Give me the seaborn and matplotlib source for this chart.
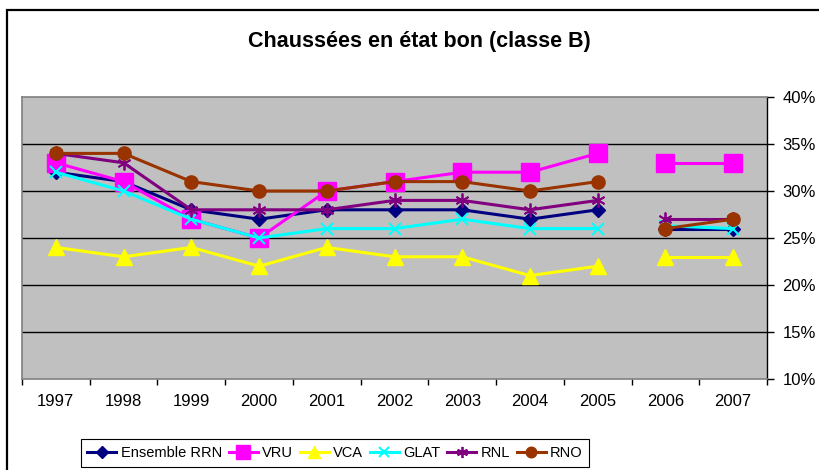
import matplotlib
matplotlib.use("Agg")
import matplotlib.pyplot as plt
from matplotlib.lines import Line2D
from matplotlib.patches import Rectangle
from matplotlib.ticker import FixedLocator, FuncFormatter
import numpy as np
import pandas as pd
import seaborn as sns

years = ["1997", "1998", "1999", "2000", "2001", "2002", "2003", "2004", "2005", "2006", "2007"]
# two survey periods; lines are not joined between them
periods = [0, 0, 0, 0, 0, 0, 0, 0, 0, 1, 1]

ensemble_rrn = [32, 31, 28, 27, 28, 28, 28, 27, 28, 26, 26]
vru = [33, 31, 27, 25, 30, 31, 32, 32, 34, 33, 33]
vca = [24, 23, 24, 22, 24, 23, 23, 21, 22, 23, 23]
glat = [32, 30, 27, 25, 26, 26, 27, 26, 26, 26.3, 26]
rnl = [34, 33, 28, 28, 28, 29, 29, 28, 29, 27, 27]
rno = [34, 34, 31, 30, 30, 31, 31, 30, 31, 26, 27]

series_names = ["Ensemble RRN", "VRU", "VCA", "GLAT", "RNL", "RNO"]
series_values = [ensemble_rrn, vru, vca, glat, rnl, rno]

y_ticks = [0.10, 0.15, 0.20, 0.25, 0.30, 0.35, 0.40]

styles = {
    "Ensemble RRN": dict(color="#000080", marker="D", ms=7.5, mew=1, lw=2.2),
    "VRU": dict(color="#FF00FF", marker="s", ms=12.5, mew=1, lw=2.2),
    "VCA": dict(color="#FFFF00", marker="^", ms=11, mew=1, lw=2.2),
    "GLAT": dict(color="#00FFFF", marker="x", ms=9, mew=1.5, lw=2.2),
    "RNL": dict(color="#800080", marker=(6, 2, 0), ms=10, mew=1.3, lw=2.2),
    "RNO": dict(color="#993300", marker="o", ms=9.5, mew=1, lw=2.2),
}

rows = []
for name, vals in zip(series_names, series_values):
    for i, (v, p) in enumerate(zip(vals, periods)):
        rows.append({"series": name, "pos": i, "value": v / 100.0, "period": p})
df = pd.DataFrame(rows)

fig = plt.figure(figsize=(8.19, 4.70), dpi=100)
fig.patch.set_facecolor("white")
plt.rcParams["font.family"] = ["Liberation Sans", "DejaVu Sans"]

ax = fig.add_axes([22 / 819, 91 / 470, 745 / 819, 282 / 470])
ax.set_facecolor("#C0C0C0")

for k, name in enumerate(series_names):
    st = styles[name]
    sub = df[df["series"] == name]
    sns.lineplot(
        data=sub, x="pos", y="value", units="period", estimator=None,
        color=st["color"], lw=st["lw"], marker=st["marker"], markersize=st["ms"],
        markeredgewidth=st["mew"], markeredgecolor=st["color"],
        markerfacecolor=st["color"], ax=ax, legend=False, zorder=3 + k,
    )

ax.set_xlim(-0.5, len(years) - 0.5)
ax.set_ylim(0.10, 0.40)

# category boundaries carry tick marks, centres carry labels
ax.xaxis.set_major_locator(FixedLocator(np.arange(-0.5, len(years), 1.0)))
ax.xaxis.set_minor_locator(FixedLocator(np.arange(len(years))))
ax.set_xticklabels([])
ax.set_xticklabels(years, minor=True)
ax.tick_params(axis="x", which="major", direction="out", length=4, width=1, color="black")
ax.tick_params(axis="x", which="minor", length=0, pad=11, labelsize=12)

ax.yaxis.tick_right()
ax.set_yticks(y_ticks)
ax.yaxis.set_major_formatter(FuncFormatter(lambda v, _: f"{v * 100:.0f}%"))
ax.tick_params(axis="y", direction="out", length=5, width=1, color="black", pad=6, labelsize=12)

for v in y_ticks[1:-1]:
    ax.axhline(v, color="black", lw=1, zorder=1)

ax.set_xlabel("")
ax.set_ylabel("")
for side in ["left", "top", "bottom"]:
    ax.spines[side].set_color("#808080")
    ax.spines[side].set_linewidth(1.2)
ax.spines["right"].set_color("black")
ax.spines["right"].set_linewidth(1)

fig.text(419 / 819, 1 - 41 / 470, "Chaussées en état bon (classe B)",
         ha="center", va="center", fontsize=15.5, fontweight="bold")

handles = []
for name in series_names:
    st = styles[name]
    handles.append(Line2D([0], [0], color=st["color"], lw=st["lw"], marker=st["marker"],
                          markersize=st["ms"] * 0.8, markeredgewidth=st["mew"],
                          markeredgecolor=st["color"], markerfacecolor=st["color"]))
leg = fig.legend(handles, series_names, loc="center", bbox_to_anchor=(335 / 819, 1 - 453 / 470),
                 ncol=6, frameon=True, fancybox=False, edgecolor="black", fontsize=10.5,
                 handlelength=2.0, handletextpad=0.3, columnspacing=0.45, borderpad=0.45,
                 borderaxespad=0.3, framealpha=1)
leg.get_frame().set_linewidth(0.8)

# outer chart frame
fig.patches.append(Rectangle((7 / 819, -0.1), 1.2, 1 - 10 / 470 + 0.1, transform=fig.transFigure,
                             fill=False, edgecolor="black", lw=1.6))

fig.savefig("out.png", dpi=100)
